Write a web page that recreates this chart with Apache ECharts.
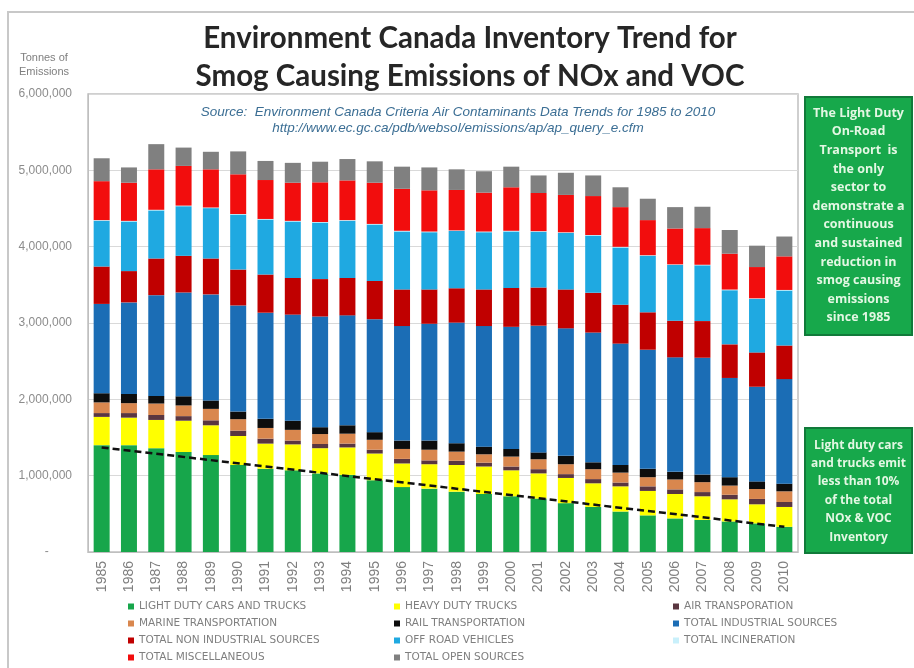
<!DOCTYPE html>
<html>
<head>
<meta charset="utf-8">
<script src="https://cdn.jsdelivr.net/npm/echarts@6/dist/echarts.min.js"></script>
<style>
html,body{margin:0;padding:0;background:#fff;}
#chart{width:914px;height:668px;}
</style>
</head>
<body>
<div id="chart"></div>
<script>
const years = ['1985','1986','1987','1988','1989','1990','1991','1992','1993','1994','1995','1996','1997','1998','1999','2000','2001','2002','2003','2004','2005','2006','2007','2008','2009','2010'];

// Tonnes of emissions
const lightDuty   = [1400000,1400000,1360000,1310000,1270000,1140000,1090000,1070000,1030000,1010000,940000,850000,830000,790000,760000,730000,700000,640000,590000,530000,480000,440000,420000,400000,375000,330000];
const heavyDuty   = [370000,360000,370000,410000,390000,380000,330000,340000,330000,360000,350000,310000,320000,350000,360000,340000,330000,330000,310000,330000,320000,320000,310000,290000,250000,260000];
const airTrans    = [50000,60000,65000,60000,65000,70000,65000,50000,55000,50000,50000,60000,50000,55000,50000,50000,55000,50000,55000,50000,60000,60000,55000,60000,70000,65000];
const marine      = [140000,130000,150000,140000,150000,150000,140000,140000,130000,130000,130000,130000,140000,120000,110000,130000,130000,130000,130000,130000,120000,130000,130000,120000,130000,140000];
const rail        = [120000,120000,100000,120000,110000,100000,120000,120000,90000,110000,100000,110000,120000,110000,100000,100000,90000,110000,90000,100000,110000,100000,100000,110000,100000,100000];
const industrial  = [1170000,1200000,1320000,1360000,1390000,1390000,1390000,1390000,1450000,1440000,1480000,1500000,1530000,1580000,1580000,1600000,1660000,1670000,1700000,1590000,1560000,1500000,1530000,1300000,1240000,1370000];
const nonIndustrial = [490000,410000,480000,480000,470000,470000,500000,480000,490000,490000,500000,480000,450000,450000,480000,510000,500000,510000,520000,510000,490000,480000,480000,440000,450000,440000];
const offRoad     = [600000,650000,630000,650000,660000,720000,720000,740000,740000,750000,740000,760000,750000,750000,750000,740000,730000,740000,750000,750000,740000,730000,730000,710000,700000,720000];
const incineration = [8000,8000,8000,8000,8000,8000,8000,8000,8000,8000,8000,8000,8000,8000,8000,8000,8000,8000,8000,8000,8000,8000,8000,8000,8000,8000];
const miscellaneous = [510000,500000,530000,520000,500000,520000,510000,500000,520000,520000,540000,550000,540000,530000,510000,570000,500000,490000,510000,520000,460000,470000,480000,470000,410000,440000];
const openSources = [300000,200000,330000,240000,230000,300000,250000,260000,270000,280000,280000,290000,300000,270000,280000,270000,230000,290000,270000,260000,280000,280000,280000,310000,280000,260000];
// Dashed trend line of light-duty emissions: end points
const trendLine = [1370000,null,null,null,null,null,null,null,null,null,null,null,null,null,null,null,null,null,null,null,null,null,null,null,null,330000];

const yTicks = [0,1000000,2000000,3000000,4000000,5000000,6000000];

const seriesDefs = [
  ['LIGHT DUTY CARS AND TRUCKS', lightDuty, '#17a64b'],
  ['HEAVY DUTY TRUCKS', heavyDuty, '#ffff00'],
  ['AIR TRANSPORATION', airTrans, '#5a3640'],
  ['MARINE TRANSPORTATION', marine, '#d9874e'],
  ['RAIL TRANSPORTATION', rail, '#0d0d0d'],
  ['TOTAL INDUSTRIAL SOURCES', industrial, '#1b6db5'],
  ['TOTAL NON INDUSTRIAL SOURCES', nonIndustrial, '#c00000'],
  ['OFF ROAD VEHICLES', offRoad, '#1fa9e1'],
  ['TOTAL INCINERATION', incineration, '#c9f0fb'],
  ['TOTAL MISCELLANEOUS', miscellaneous, '#f20d0d'],
  ['TOTAL OPEN SOURCES', openSources, '#808080']
];

const series = seriesDefs.map(d => ({
  name: d[0], type: 'bar', stack: 'total', data: d[1], barWidth: 16,
  itemStyle: {color: d[2]}, emphasis: {disabled: true}
}));
series.push({
  name: 'trend', type: 'line', data: trendLine, connectNulls: true,
  symbol: 'none', z: 10,
  lineStyle: {color: '#111', width: 2.5, type: [7, 4]}
});

const legendText = {color: '#7f7f7f', fontSize: 10.5, fontFamily: 'DejaVu Sans', lineHeight: 10};
function legendCol(names, left) {
  return {
    orient: 'vertical', left: left, top: 601, height: 66, padding: 0,
    itemWidth: 6, itemHeight: 6, itemGap: 6,
    icon: 'rect', textStyle: legendText, data: names, selectedMode: false
  };
}

const chart = echarts.init(document.getElementById('chart'), null, {renderer: 'canvas'});
chart.setOption({
  animation: false,
  backgroundColor: '#ffffff',
  grid: {left: 88, right: 116, top: 94, bottom: 116, show: true, borderColor: '#c0c0c0', borderWidth: 1.5},
  xAxis: {
    type: 'category', data: years,
    axisLine: {lineStyle: {color: '#bfbfbf'}},
    axisTick: {show: false},
    axisLabel: {rotate: 90, color: '#7f7f7f', fontSize: 14, fontFamily: 'Liberation Sans', margin: 9}
  },
  yAxis: {
    type: 'value', min: yTicks[0], max: yTicks[yTicks.length - 1], interval: 1000000,
    axisLine: {show: true, lineStyle: {color: '#bfbfbf'}},
    splitLine: {lineStyle: {color: '#d9d9d9'}},
    axisLabel: {color: '#8c8c8c', fontSize: 12, fontFamily: 'Liberation Sans', margin: 16,
      formatter: v => v === 0 ? '-       ' : v.toLocaleString('en-US')}
  },
  legend: [
    legendCol(['LIGHT DUTY CARS AND TRUCKS','MARINE TRANSPORTATION','TOTAL NON INDUSTRIAL SOURCES','TOTAL MISCELLANEOUS'], 128),
    legendCol(['HEAVY DUTY TRUCKS','RAIL TRANSPORTATION','OFF ROAD VEHICLES','TOTAL OPEN SOURCES'], 394),
    legendCol(['AIR TRANSPORATION','TOTAL INDUSTRIAL SOURCES','TOTAL INCINERATION'], 673)
  ],
  series: series,
  graphic: [
    {type: 'polyline', silent: true, shape: {points: [[8, 668], [8, 12], [914, 12]]},
      style: {stroke: '#c8c8c8', lineWidth: 2, fill: null}},
    {type: 'text', silent: true, style: {
      text: 'Environment Canada Inventory Trend for\nSmog Causing Emissions of NOx and VOC',
      x: 470, y: 19, textAlign: 'center', textVerticalAlign: 'top',
      font: 'bold 29.5px Lato', fill: '#262626', lineHeight: 38}},
    {type: 'text', silent: true, style: {
      text: 'Tonnes of\nEmissions', x: 44, y: 51, textAlign: 'center', textVerticalAlign: 'top',
      font: '11px "Liberation Sans"', fill: '#7f7f7f', lineHeight: 14}},
    {type: 'text', silent: true, style: {
      text: 'Source:  Environment Canada Criteria Air Contaminants Data Trends for 1985 to 2010\nhttp://www.ec.gc.ca/pdb/websol/emissions/ap/ap_query_e.cfm',
      x: 458, y: 104, textAlign: 'center', textVerticalAlign: 'top',
      font: 'italic 13.5px "Liberation Sans"', fill: '#3b6e94', lineHeight: 16}},
    {type: 'rect', silent: true, shape: {x: 805, y: 97, width: 107, height: 238},
      style: {fill: '#17a84b', stroke: '#117a3a', lineWidth: 2}},
    {type: 'text', silent: true, style: {
      text: 'The Light Duty\nOn-Road\nTransport  is\nthe only\nsector to\ndemonstrate a\ncontinuous\nand sustained\nreduction in\nsmog causing\nemissions\nsince 1985',
      x: 858.5, y: 104, textAlign: 'center', textVerticalAlign: 'top',
      font: 'bold 12.5px "Open Sans"', fill: '#e3f7e3', lineHeight: 18.6}},
    {type: 'rect', silent: true, shape: {x: 805, y: 428, width: 107, height: 125},
      style: {fill: '#17a84b', stroke: '#117a3a', lineWidth: 2}},
    {type: 'text', silent: true, style: {
      text: 'Light duty cars\nand trucks emit\nless than 10%\nof the total\nNOx & VOC\nInventory',
      x: 858.5, y: 436, textAlign: 'center', textVerticalAlign: 'top',
      font: 'bold 12px "Open Sans"', fill: '#e3f7e3', lineHeight: 18.4}}
  ]
});
</script>
</body>
</html>
